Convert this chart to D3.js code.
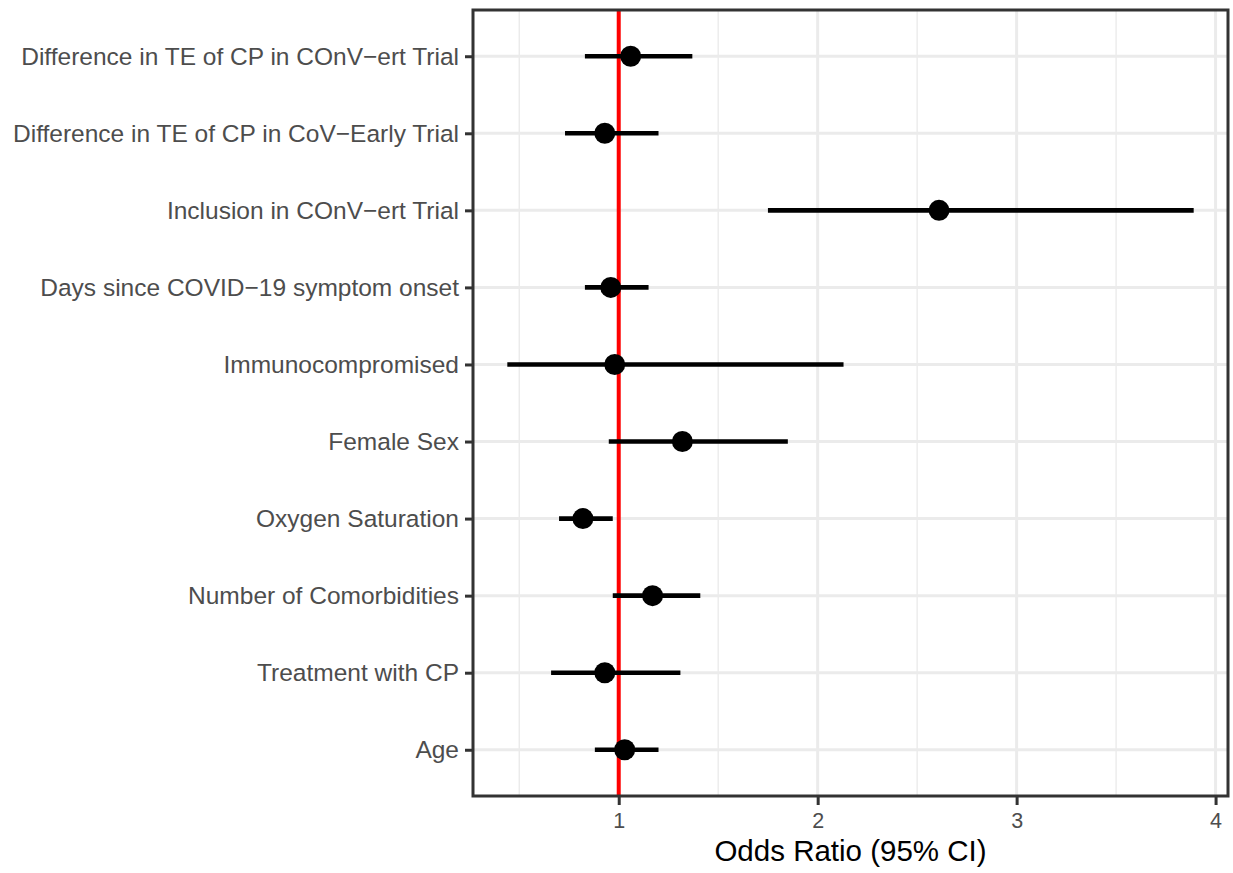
<!DOCTYPE html>
<html>
<head>
<meta charset="utf-8">
<script src="https://cdn.jsdelivr.net/npm/d3@7"></script>
<style>
  body { margin: 0; background: #fff; }
  svg { display: block; }
</style>
</head>
<body>
<svg id="chart" width="1233" height="873"></svg>
<script>
// Data (top to bottom)
const categories = [
  "Difference in TE of CP in COnV\u2212ert Trial",
  "Difference in TE of CP in CoV\u2212Early Trial",
  "Inclusion in COnV\u2212ert Trial",
  "Days since COVID\u221219 symptom onset",
  "Immunocompromised",
  "Female Sex",
  "Oxygen Saturation",
  "Number of Comorbidities",
  "Treatment with CP",
  "Age"
];
const oddsRatio = [1.06, 0.93, 2.61, 0.96, 0.98, 1.32, 0.82, 1.17, 0.93, 1.03];
const lowerCI   = [0.83, 0.73, 1.75, 0.83, 0.44, 0.95, 0.70, 0.97, 0.66, 0.88];
const upperCI   = [1.37, 1.20, 3.89, 1.15, 2.13, 1.85, 0.97, 1.41, 1.31, 1.20];
const xTicks = [1, 2, 3, 4];
const xMinorTicks = [0.5, 1.5, 2.5, 3.5];
const refLine = 1;
const xTitle = "Odds Ratio (95% CI)";

const svg = d3.select("#chart");
const panel = { left: 473, right: 1228, top: 10, bottom: 796 };
const font = "'Liberation Sans', Arial, sans-serif";

const dataMin = d3.min(lowerCI), dataMax = d3.max(upperCI);
const pad = (dataMax - dataMin) * 0.05;
const x = d3.scaleLinear().domain([dataMin - pad, dataMax + pad]).range([panel.left, panel.right]);
const y = d3.scalePoint().domain(categories).range([panel.top, panel.bottom]).padding(0.6);

const g = svg.append("g");

// grid
g.selectAll(".minor").data(xMinorTicks).join("line")
  .attr("x1", d => x(d)).attr("x2", d => x(d))
  .attr("y1", panel.top).attr("y2", panel.bottom)
  .attr("stroke", "#ebebeb").attr("stroke-width", 1.4);
g.selectAll(".major").data(xTicks).join("line")
  .attr("x1", d => x(d)).attr("x2", d => x(d))
  .attr("y1", panel.top).attr("y2", panel.bottom)
  .attr("stroke", "#ebebeb").attr("stroke-width", 3);
g.selectAll(".hgrid").data(categories).join("line")
  .attr("x1", panel.left).attr("x2", panel.right)
  .attr("y1", d => y(d)).attr("y2", d => y(d))
  .attr("stroke", "#ebebeb").attr("stroke-width", 3);

// reference line
g.append("line")
  .attr("x1", x(refLine)).attr("x2", x(refLine))
  .attr("y1", panel.top).attr("y2", panel.bottom)
  .attr("stroke", "#ff0000").attr("stroke-width", 4);

// error bars
g.selectAll(".ci").data(categories).join("line")
  .attr("x1", (d, i) => x(lowerCI[i])).attr("x2", (d, i) => x(upperCI[i]))
  .attr("y1", d => y(d)).attr("y2", d => y(d))
  .attr("stroke", "#000").attr("stroke-width", 4.6);

// points
g.selectAll(".pt").data(categories).join("circle")
  .attr("cx", (d, i) => x(oddsRatio[i])).attr("cy", d => y(d))
  .attr("r", 10.5).attr("fill", "#000");

// panel border
g.append("rect")
  .attr("x", panel.left).attr("y", panel.top)
  .attr("width", panel.right - panel.left).attr("height", panel.bottom - panel.top)
  .attr("fill", "none").attr("stroke", "#333333").attr("stroke-width", 3);

// axes
const xAxis = d3.axisBottom(x).tickValues(xTicks).tickFormat(d3.format("d")).tickSize(9).tickPadding(8);
const xa = svg.append("g").attr("transform", `translate(0,${panel.bottom})`).call(xAxis);
xa.select(".domain").remove();
xa.selectAll(".tick line").attr("stroke", "#333333").attr("stroke-width", 3);
xa.selectAll(".tick text").attr("fill", "#4d4d4d")
  .style("font-family", font).style("font-size", "21.5px");

const yAxis = d3.axisLeft(y).tickSize(8).tickPadding(6);
const ya = svg.append("g").attr("transform", `translate(${panel.left},0)`).call(yAxis);
ya.select(".domain").remove();
ya.selectAll(".tick line").attr("stroke", "#333333").attr("stroke-width", 3);
ya.selectAll(".tick text").attr("fill", "#4d4d4d").attr("dy", "0.33em")
  .style("font-family", font).style("font-size", "24.5px");

svg.append("text")
  .attr("x", (panel.left + panel.right) / 2).attr("y", 861)
  .attr("text-anchor", "middle")
  .style("font-family", font).style("font-size", "29.5px")
  .attr("fill", "#000")
  .text(xTitle);
</script>
</body>
</html>
